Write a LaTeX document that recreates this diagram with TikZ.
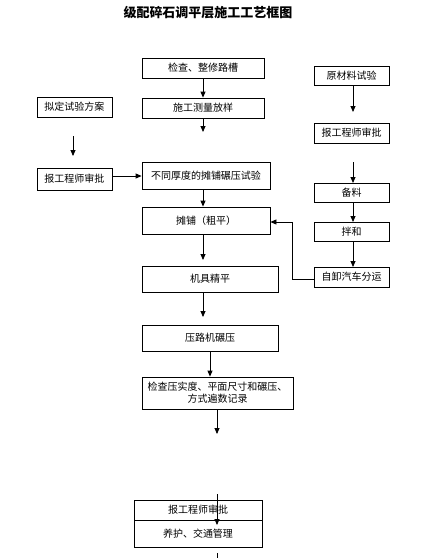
\documentclass[tikz,border=0pt]{standalone}
\usepackage{fontspec}
\newfontfamily\cjk{Noto Sans CJK SC}
\usetikzlibrary{arrows.meta}
\begin{document}
\begin{tikzpicture}[x=1pt,y=-1pt,
  box/.style={draw=black,line width=0.8pt,rectangle,inner sep=0pt,font=\cjk\fontsize{10}{12}\selectfont,align=center},
  arr/.style={line width=0.8pt,-{Triangle[length=6pt,width=5pt]}},
  ln/.style={line width=0.8pt}]
\useasboundingbox (0,0) rectangle (428,558);
\node[font=\cjk\bfseries\fontsize{13}{15}\selectfont] (title) at (208,13) {级配碎石调平层施工工艺框图};
% main column
\node[box,minimum width=122,minimum height=20] (A) at (203,68) {检查、整修路槽};
\node[box,minimum width=122,minimum height=20] (B) at (203,108) {施工测量放样};
\node[box,minimum width=128,minimum height=27] (C) at (206,175.5) {不同厚度的摊铺碾压试验};
\node[box,minimum width=128,minimum height=27] (D) at (206,220.5) {摊铺（粗平）};
\node[box,minimum width=136,minimum height=26] (E) at (210,279) {机具精平};
\node[box,minimum width=136,minimum height=26] (F) at (210,338) {压路机碾压};
\node[box,minimum width=151,minimum height=32] (G) at (217.5,393) {检查压实度、平面尺寸和碾压、\\方式遍数记录};
\node[box,minimum width=128,minimum height=20] (H1) at (198,510) {报工程师审批};
\node[box,minimum width=128,minimum height=27] (H2) at (198,533.5) {养护、交通管理};
% left column
\node[box,minimum width=75,minimum height=20] (L1) at (74.5,107) {拟定试验方案};
\node[box,minimum width=75,minimum height=22] (L2) at (74.5,179) {报工程师审批};
% right column
\node[box,minimum width=75,minimum height=19] (R1) at (351.5,75.5) {原材料试验};
\node[box,minimum width=75,minimum height=20] (R2) at (351.5,133) {报工程师审批};
\node[box,minimum width=75,minimum height=19] (R3) at (351.5,192.5) {备料};
\node[box,minimum width=75,minimum height=19] (R4) at (351.5,231.5) {拌和};
\node[box,minimum width=75,minimum height=20] (R5) at (351.5,277) {自卸汽车分运};
% free ends
\coordinate (b1) at (203,132);
\coordinate (d1) at (203,260);
\coordinate (e0) at (203,292);
\coordinate (e1) at (203,317);
\coordinate (f0) at (210,351);
\coordinate (g0) at (217,409);
\coordinate (g1) at (217,434);
\coordinate (h0) at (217,494);
\coordinate (h1) at (217,525);
\coordinate (h2) at (217,553);
\coordinate (h3) at (217,558);
\coordinate (l0) at (73,136);
\coordinate (l1) at (73,156);
\coordinate (r10) at (353,85);
\coordinate (r11) at (353,112);
\coordinate (r20) at (353,162);
\coordinate (r21) at (353,183);
\coordinate (r30) at (353,202);
\coordinate (r31) at (353,222);
\coordinate (r40) at (353,241);
\coordinate (r41) at (353,267);
\coordinate (fbx) at (292,279);
\coordinate (fby) at (292,222);
% connectors
\draw[arr] (A.south -| 203,0) -- (B.north -| 203,0);
\draw[arr] (B.south -| 203,0) -- (b1);
\draw[arr] (C.south -| 203,0) -- (D.north -| 203,0);
\draw[arr] (D.south -| 203,0) -- (d1);
\draw[arr] (e0) -- (e1);
\draw[arr] (f0) -- (G.north -| f0);
\draw[arr] (g0) -- (g1);
\draw[arr] (h0) -- (h1);
\draw[ln] (h2) -- (h3);
\draw[arr] (l0) -- (l1);
\draw[arr] (L2.east |- 0,176) -- (C.west |- 0,176);
\draw[arr] (r10) -- (r11);
\draw[arr] (r20) -- (r21);
\draw[arr] (r30) -- (r31);
\draw[arr] (r40) -- (r41);
\draw[arr] (R5.west |- fbx) -- (fbx) -- (fby) -- (D.east |- fby);
\end{tikzpicture}
\end{document}
